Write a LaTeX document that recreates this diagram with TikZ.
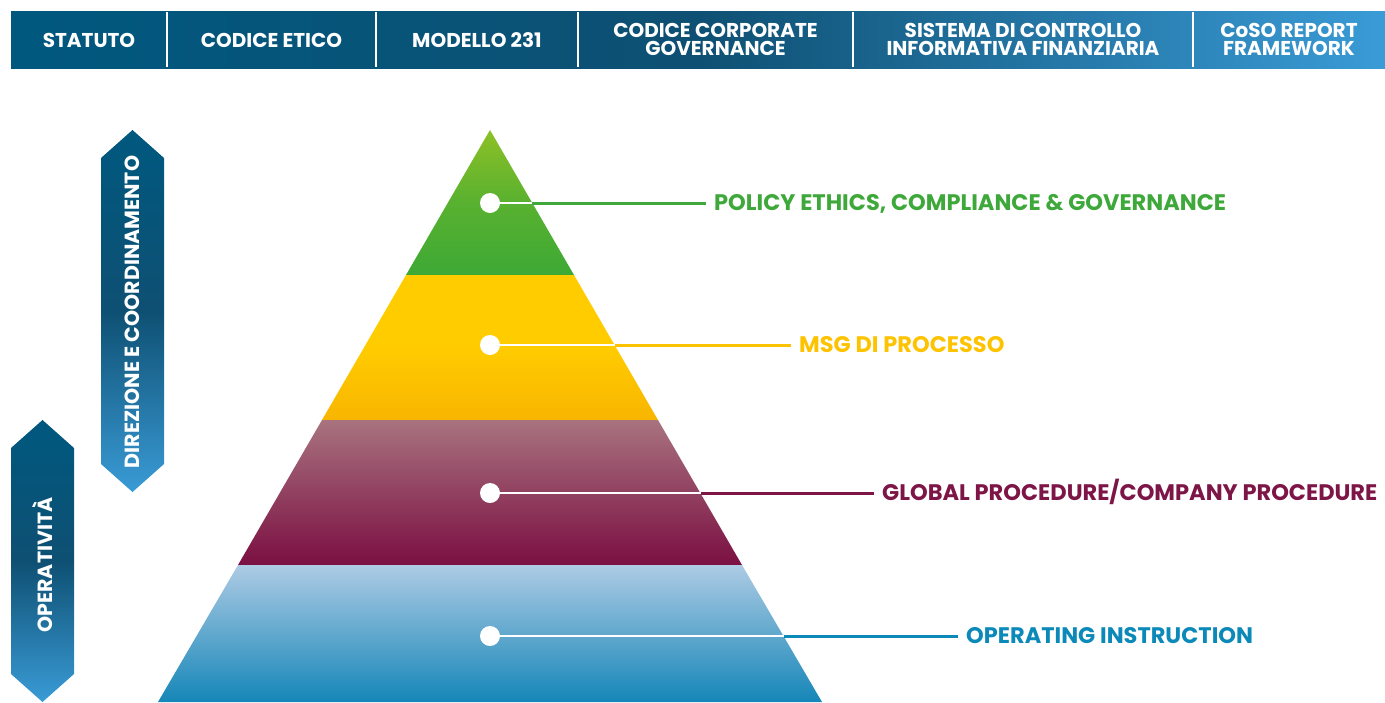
\documentclass[tikz,border=0pt]{standalone}
\usepackage{fontspec}
\setmainfont{Poppins}
\usetikzlibrary{positioning}

\definecolor{barleft}{HTML}{00587F}
\definecolor{barmid}{HTML}{0E5073}
\definecolor{barright}{HTML}{3A9BD6}
\definecolor{greentop}{HTML}{8DC026}
\definecolor{greenbot}{HTML}{3DA935}
\definecolor{yellowtop}{HTML}{FFCC00}
\definecolor{yellowbot}{HTML}{F8B500}
\definecolor{purpletop}{HTML}{A8737F}
\definecolor{purplebot}{HTML}{7B0F42}
\definecolor{bluetop}{HTML}{ADCBE4}
\definecolor{bluebot}{HTML}{1586B8}
\definecolor{greentxt}{HTML}{3EA83A}
\definecolor{yellowtxt}{HTML}{FDC300}
\definecolor{purpletxt}{HTML}{7D1547}
\definecolor{bluetxt}{HTML}{0B89B8}

\tikzset{
  header/.style={text=white, font=\fontsize{20}{18}\selectfont\bfseries, align=center, inner sep=0pt},
  sidetext/.style={text=white, font=\fontsize{20.5}{20}\selectfont\bfseries\addfontfeatures{Kerning=Off}, rotate=90, inner sep=0pt},
  level/.style={font=\fontsize{22.5}{24}\selectfont\bfseries, anchor=west, inner sep=0pt, text height=15.5pt, text depth=0pt},
  dot/.style={circle, fill=white, minimum size=20pt, inner sep=0pt},
  whiteline/.style={white, line width=2.5pt},
  leader/.style={line width=3pt, shorten >=8pt}
}

\begin{document}
\begin{tikzpicture}[x=1pt, y=-1pt]
    \useasboundingbox (0, 0) rectangle (1385, 702);

    % top bar
    \shade[left color=barleft, right color=barright, middle color=barmid] (11, 11) rectangle (1385, 68);
    \foreach \x in {167, 376, 578, 853, 1193}
        \draw[white, line width=2pt] (\x, 12) -- (\x, 67);
    \node[header] (statuto) at (89, 40) {STATUTO};
    \node[header] (etico) at (271.5, 40) {CODICE ETICO};
    \node[header] (modello) at (477, 40) {MODELLO 231};
    \node[header] (corporate) at (715.5, 39) {CODICE CORPORATE\\GOVERNANCE};
    \node[header] (sistema) at (1023, 39) {SISTEMA DI CONTROLLO\\INFORMATIVA FINANZIARIA};
    \node[header] (coso) at (1289, 39) {CoSO REPORT\\FRAMEWORK};

    % side arrows
    \shade[top color=barleft, bottom color=barright, middle color=barmid]
        (132.5, 130) -- (164, 158) -- (164, 464) -- (132.5, 492) -- (101, 464) -- (101, 158) -- cycle;
    \node[sidetext] (direzione) at (132.5, 312) {DIREZIONE E COORDINAMENTO};
    \shade[top color=barleft, bottom color=barright, middle color=barmid]
        (42.5, 420) -- (74, 448) -- (74, 674) -- (42.5, 702) -- (11, 674) -- (11, 448) -- cycle;
    \node[sidetext] (operativita) at (42.5, 565) {OPERATIVITÀ};

    % pyramid
    \shade[top color=greentop, bottom color=greenbot, middle color=greentop!35!greenbot]
        (490, 130) -- (574, 275) -- (406, 275) -- cycle;
    \shade[top color=yellowtop, bottom color=yellowbot, middle color=yellowtop]
        (406, 275) -- (574, 275) -- (658, 420) -- (322, 420) -- cycle;
    \shade[top color=purpletop, bottom color=purplebot]
        (322, 420) -- (658, 420) -- (742, 565) -- (238, 565) -- cycle;
    \shade[top color=bluetop, bottom color=bluebot]
        (238, 565) -- (742, 565) -- (822, 702) -- (158, 702) -- cycle;

    % dots and labels
    \node[dot] (d1) at (490, 203) {};
    \node[dot] (d2) at (490, 345) {};
    \node[dot] (d3) at (490, 493) {};
    \node[dot] (d4) at (490, 636) {};
    \coordinate (e1) at (532, 203);
    \coordinate (e2) at (615, 345);
    \coordinate (e3) at (701, 493);
    \coordinate (e4) at (784, 636);
    \node[level, text=greentxt] (l1) at (714, 203) {POLICY ETHICS, COMPLIANCE \& GOVERNANCE};
    \node[level, text=yellowtxt] (l2) at (799, 345) {MSG DI PROCESSO};
    \node[level, text=purpletxt] (l3) at (882, 493) {GLOBAL PROCEDURE/COMPANY PROCEDURE};
    \node[level, text=bluetxt] (l4) at (966, 636) {OPERATING INSTRUCTION};

    \draw[whiteline] (d1) -- (e1);
    \draw[whiteline] (d2) -- (e2);
    \draw[whiteline] (d3) -- (e3);
    \draw[whiteline] (d4) -- (e4);
    \draw[leader, greentxt] (e1) -- (l1.west);
    \draw[leader, yellowtxt] (e2) -- (l2.west);
    \draw[leader, purpletxt] (e3) -- (l3.west);
    \draw[leader, bluetxt] (e4) -- (l4.west);
\end{tikzpicture}
\end{document}
